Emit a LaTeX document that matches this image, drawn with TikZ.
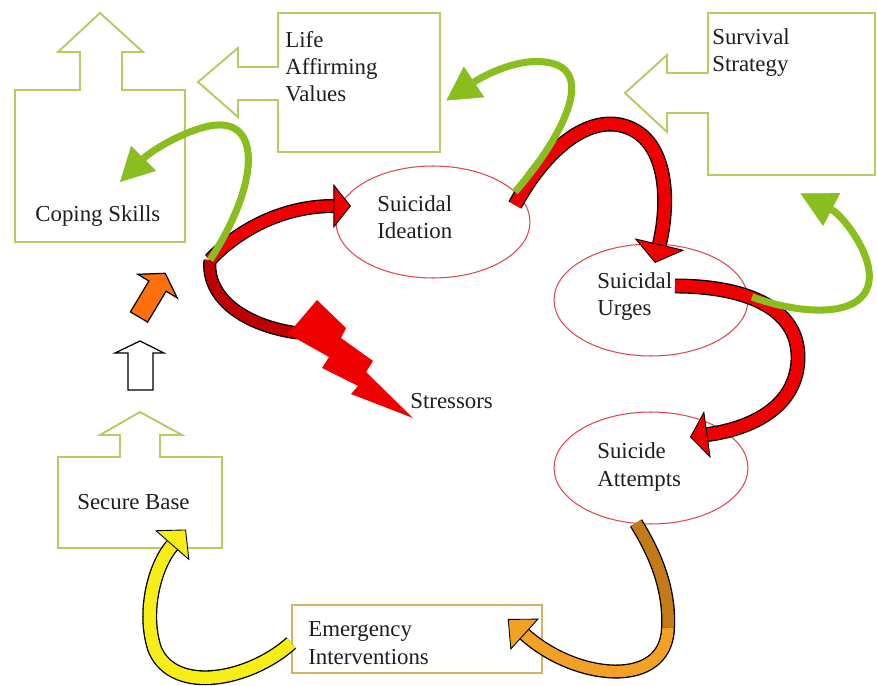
\documentclass[tikz,border=0pt]{standalone}
\usepackage{fontspec}
\setmainfont{Liberation Serif}
\usetikzlibrary{arrows.meta,calc,shapes.geometric}
\definecolor{boxgreen}{RGB}{178,206,98}
\definecolor{arrgreen}{RGB}{138,190,30}
\definecolor{redA}{RGB}{238,0,0}
\definecolor{redD}{RGB}{190,0,0}
\definecolor{ellred}{RGB}{222,72,82}
\definecolor{emgcol}{RGB}{214,178,105}
\definecolor{brownA}{RGB}{196,122,22}
\definecolor{orangeA}{RGB}{242,160,38}
\definecolor{yellowA}{RGB}{246,238,22}
\definecolor{orangeT}{RGB}{255,112,12}
\definecolor{txt}{RGB}{30,30,30}
\begin{document}
\begin{tikzpicture}[x=0.02cm,y=-0.02cm,
  font=\fontsize{13}{15.5}\selectfont,
  boxline/.style={draw=boxgreen, line width=1.1pt, fill=white, line join=miter},
  ell/.style={ellipse, draw=ellred, line width=0.6pt, minimum width=3.88cm, minimum height=2.24cm, inner sep=0pt},
  lbl/.style={anchor=base west, align=left, inner sep=0pt, text=txt},
  fatout/.style n args={5}{draw=#1, line width=#2,
     -{Triangle[length=#3, width=#4, fill=#1, color=black, line width=0.5pt]},
     preaction={draw=black, line width=#5, arrows=-, shorten >=#3}},
  fatbody/.style n args={3}{draw=#1, line width=#2, preaction={draw=black, line width=#3}},
  gfat/.style n args={2}{draw=arrgreen, line width=4pt,
     -{Triangle[length=#1, width=#2, line width=0.3pt]}},
]
\fill[white] (0,0) rectangle (877,686);
\useasboundingbox (0,0) rectangle (877,686);

% ---- boxes with block arrows (shapes) ----
\draw[boxline] (15,90) -- (80,90) -- (80,52) -- (58,52) -- (100,13) -- (143,52) -- (122,52) -- (122,90)
   -- (185,90) -- (185,242) -- (15,242) -- cycle;
\node[inner sep=0pt, minimum width=3.4cm, minimum height=3.04cm] (copebox) at (100,166) {};

\draw[boxline] (278,13) -- (440,13) -- (440,152) -- (278,152) -- (278,100) -- (238,100) -- (238,117)
   -- (198,82) -- (238,48) -- (238,67) -- (278,67) -- cycle;
\node[inner sep=0pt, minimum width=3.24cm, minimum height=2.78cm] (lifebox) at (359,82.5) {};

\draw[boxline] (708,13) -- (875,13) -- (875,175) -- (708,175) -- (708,113) -- (667,113) -- (667,132)
   -- (625,93) -- (667,55) -- (667,73) -- (708,73) -- cycle;
\node[inner sep=0pt, minimum width=3.34cm, minimum height=3.24cm] (survbox) at (791.5,94) {};

\draw[boxline] (58,457) -- (120,457) -- (120,435) -- (100,435) -- (140,412) -- (182,435) -- (160,435)
   -- (160,457) -- (222,457) -- (222,548) -- (58,548) -- cycle;
\node[inner sep=0pt, minimum width=3.28cm, minimum height=1.82cm] (securebox) at (140,502.5) {};

\node[draw=emgcol, line width=0.9pt, fill=white, inner sep=0pt, minimum width=5cm, minimum height=1.36cm] (emerg) at (417,639) {};

% ---- ellipses ----
\node[ell] (ide) at (433,222) {};
\node[ell] (urg) at (651,300) {};
\node[ell] (att) at (651,468) {};

% ---- small arrows ----
\draw[black, line width=0.7pt, fill=white] (128,390) -- (128,353) -- (115,353) -- (140,341) -- (164,353)
   -- (153,353) -- (153,390) -- cycle;
\draw[black, line width=0.7pt, fill=orangeT] (130.4,311.9) -- (148.9,281) -- (137.8,274.3) -- (165.2,273.3)
   -- (177.2,297.9) -- (166.1,291.2) -- (147.6,322.1) -- cycle;

% ---- texts (anchor = baseline of last line) ----
\node[lbl] (cope) at (35,222) {Coping Skills};
\node[lbl] (life) at (285,102) {Life\\Affirming\\Values};
\node[lbl] (surv) at (712,72) {Survival\\Strategy};
\node[lbl] (idet) at (377,239) {Suicidal\\Ideation};
\node[lbl] (urgt) at (597,316) {Suicidal\\Urges};
\node[lbl] (attt) at (597,486) {Suicide\\Attempts};
\node[lbl] (emgt) at (308,664) {Emergency\\Interventions};
\node[lbl] (sect) at (77,509) {Secure Base};
\node[lbl] (stress) at (410,409) {Stressors};

% ---- hub and stressors ----
\coordinate (hub) at (210,260);
\coordinate (bolt) at (298,333);
\draw[fatbody={redD}{6pt}{7.5pt}] (hub) .. controls (206,298) and (245,326) .. (bolt);
\fill[redA] (288,334) -- (317,300) -- (346,328) -- (341,338) -- (373,361) -- (366,372) -- (413,418)
   -- (351,394) -- (358,386) -- (322,368) -- (329,357) -- cycle;

% ---- red arrows ----
\draw[fatout={redA}{6.5pt}{10pt}{25pt}{8pt}] (hub) .. controls (240,228) and (285,206) .. ($(ide)+(-82,-16)$);
\draw[fatout={redA}{7pt}{11pt}{29pt}{8.5pt}] ($(ide)+(82,-17)$) .. controls (545,150) and (585,118) .. (620,125)
   .. controls (668,135) and (670,200) .. ($(urg)+(4,-37)$);
\draw[fatout={redA}{7pt}{10pt}{27pt}{8.5pt}] ($(urg)+(24,-14)$) .. controls (740,286) and (800,305) .. (798,360)
   .. controls (796,405) and (755,428) .. ($(att)+(39,-31)$);

% ---- green arrows ----
\draw[gfat={19pt}{20pt}] (hub) .. controls (262,180) and (262,112) .. (205,127)
   .. controls (178,134) and (150,152) .. ($(copebox)+(20,16)$);
\draw[gfat={19pt}{21pt}] ($(ide)+(82,-30)$) .. controls (560,140) and (600,68) .. (545,62)
   .. controls (515,58) and (480,78) .. ($(lifebox.east)+(6,18)$);
\draw[gfat={20pt}{21pt}] ($(urg)+(101,-3)$) .. controls (810,318) and (880,318) .. (868,265)
   .. controls (862,240) and (840,214) .. ($(survbox.south)+(9,18)$);

% ---- bottom arrows ----
\coordinate (brj) at (668,628);
\draw[fatbody={brownA}{6.5pt}{8pt}] ($(att)+(-15,55)$) .. controls (656,555) and (670,590) .. (brj);
\draw[fatout={orangeA}{6.5pt}{13pt}{24pt}{8pt}] (brj) .. controls (666,690) and (575,680) .. ($(emerg.east)+(-35,-20)$);
\draw[fatout={yellowA}{7pt}{12pt}{26pt}{8.5pt}] ($(emerg.west)+(0,4)$) .. controls (250,680) and (175,695) .. (155,650)
   .. controls (142,612) and (155,565) .. ($(securebox)+(46,27)$);
\end{tikzpicture}
\end{document}
